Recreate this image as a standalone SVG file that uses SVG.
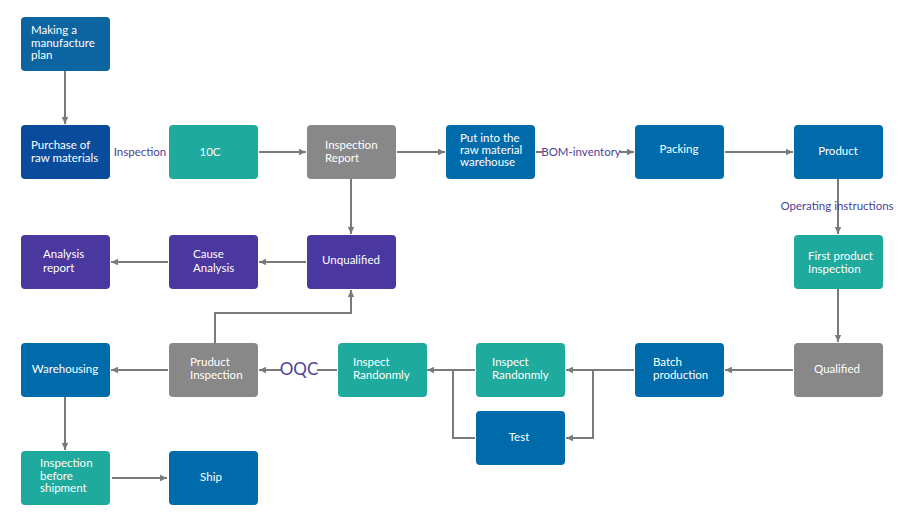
<svg xmlns="http://www.w3.org/2000/svg" width="900" height="525" viewBox="0 0 900 525">
<defs>
<marker id="ah" markerWidth="8" markerHeight="8" refX="7" refY="4" orient="auto" markerUnits="userSpaceOnUse">
<path d="M0,0.8 L7,4 L0,7.2 Z" fill="#7a7a7a"/>
</marker>
<style>
.n{stroke:none}
.blue{fill:#006bab}
.dblue{fill:#0a4c9c}
.mblue{fill:#0c64a0}
.teal{fill:#1eaa9c}
.gray{fill:#888888}
.purple{fill:#4a37a0}
.t{font-family:Lato,"Noto Sans","Liberation Sans",sans-serif;font-size:11.5px;fill:#ffffff}
.c{text-anchor:middle}
.lbl{font-family:Lato,"Noto Sans","Liberation Sans",sans-serif;font-size:11.5px;fill:#4b3f9a}
.e{fill:none;stroke:#7a7a7a;stroke-width:2}
.a{marker-end:url(#ah)}
</style>
</defs>
<rect width="900" height="525" fill="#ffffff"/>
<g id="connectors">
<path class="e a" d="M65,71 V124"/>
<path class="e a" d="M259,152 H306"/>
<path class="e a" d="M397,152 H445"/>
<path class="e" d="M536,152 H542"/>
<path class="e a" d="M620,152 H634"/>
<path class="e a" d="M725,152 H793"/>
<path class="e a" d="M838,179 V234"/>
<path class="e a" d="M838,289 V342"/>
<path class="e a" d="M793,370 H725"/>
<path class="e" d="M634,370 H593"/>
<path class="e a" d="M593,370 H566"/>
<path class="e a" d="M593,370 V438 H566"/>
<path class="e a" d="M475,370 H427"/>
<path class="e" d="M475,438 H453 V370"/>
<path class="e" d="M337,370 H317"/>
<path class="e a" d="M281,370 H259"/>
<path class="e a" d="M215,343 V313 H351 V290"/>
<path class="e a" d="M351,179 V234"/>
<path class="e a" d="M306,262 H259"/>
<path class="e a" d="M168,262 H111"/>
<path class="e a" d="M168,370 H111"/>
<path class="e a" d="M65,397 V450"/>
<path class="e a" d="M112,478 H167"/>
<text class="lbl" x="140" y="156" text-anchor="middle">Inspection</text>
<text class="lbl" x="581" y="156" text-anchor="middle">BOM-inventory</text>
<text class="lbl" x="837" y="210" text-anchor="middle">Operating instructions</text>
<text class="lbl" x="299" y="375" text-anchor="middle" style="font-size:17px">OQC</text>
</g>
<g id="n-plan"><rect class="n mblue" x="21" y="17" width="89" height="54" rx="4"/><text class="t" x="31" y="34">Making a</text><text class="t" x="31" y="46.5">manufacture</text><text class="t" x="31" y="59">plan</text></g>
<g id="n-purchase"><rect class="n dblue" x="21" y="125" width="89" height="54" rx="4"/><text class="t" x="31" y="149">Purchase of</text><text class="t" x="31" y="162">raw materials</text></g>
<g id="n-10c"><rect class="n teal" x="169" y="125" width="89" height="54" rx="4"/><text class="t c" x="210" y="156">10C</text></g>
<g id="n-report"><rect class="n gray" x="307" y="125" width="89" height="54" rx="4"/><text class="t" x="325" y="149">Inspection</text><text class="t" x="325" y="162">Report</text></g>
<g id="n-putinto"><rect class="n blue" x="446" y="125" width="89" height="54" rx="4"/><text class="t" x="460" y="142">Put into the</text><text class="t" x="460" y="154">raw material</text><text class="t" x="460" y="166">warehouse</text></g>
<g id="n-packing"><rect class="n blue" x="635" y="125" width="89" height="54" rx="4"/><text class="t c" x="679" y="153">Packing</text></g>
<g id="n-product"><rect class="n blue" x="794" y="125" width="89" height="54" rx="4"/><text class="t c" x="838" y="155">Product</text></g>
<g id="n-first"><rect class="n teal" x="794" y="235" width="89" height="54" rx="4"/><text class="t" x="808" y="260">First product</text><text class="t" x="808" y="273">Inspection</text></g>
<g id="n-analysis"><rect class="n purple" x="21" y="235" width="89" height="54" rx="4"/><text class="t" x="43" y="258">Analysis</text><text class="t" x="43" y="272">report</text></g>
<g id="n-cause"><rect class="n purple" x="169" y="235" width="89" height="54" rx="4"/><text class="t" x="193" y="258">Cause</text><text class="t" x="193" y="272">Analysis</text></g>
<g id="n-unqualified"><rect class="n purple" x="307" y="235" width="89" height="54" rx="4"/><text class="t c" x="351" y="264">Unqualified</text></g>
<g id="n-warehousing"><rect class="n blue" x="21" y="343" width="89" height="54" rx="4"/><text class="t c" x="65" y="373">Warehousing</text></g>
<g id="n-pruduct"><rect class="n gray" x="169" y="343" width="89" height="54" rx="4"/><text class="t" x="190" y="366">Pruduct</text><text class="t" x="190" y="379">Inspection</text></g>
<g id="n-inspect1"><rect class="n teal" x="338" y="343" width="89" height="54" rx="4"/><text class="t" x="353" y="366">Inspect</text><text class="t" x="353" y="379">Randonmly</text></g>
<g id="n-inspect2"><rect class="n teal" x="476" y="343" width="89" height="54" rx="4"/><text class="t" x="492" y="366">Inspect</text><text class="t" x="492" y="379">Randonmly</text></g>
<g id="n-test"><rect class="n blue" x="476" y="411" width="89" height="54" rx="4"/><text class="t c" x="519" y="441">Test</text></g>
<g id="n-batch"><rect class="n blue" x="635" y="343" width="89" height="54" rx="4"/><text class="t" x="653" y="366">Batch</text><text class="t" x="653" y="379">production</text></g>
<g id="n-qualified"><rect class="n gray" x="794" y="343" width="89" height="54" rx="4"/><text class="t c" x="837" y="373">Qualified</text></g>
<g id="n-before"><rect class="n teal" x="21" y="451" width="89" height="54" rx="4"/><text class="t" x="40" y="467">Inspection</text><text class="t" x="40" y="480">before</text><text class="t" x="40" y="492">shipment</text></g>
<g id="n-ship"><rect class="n blue" x="169" y="451" width="89" height="54" rx="4"/><text class="t c" x="211" y="481">Ship</text></g>
</svg>
